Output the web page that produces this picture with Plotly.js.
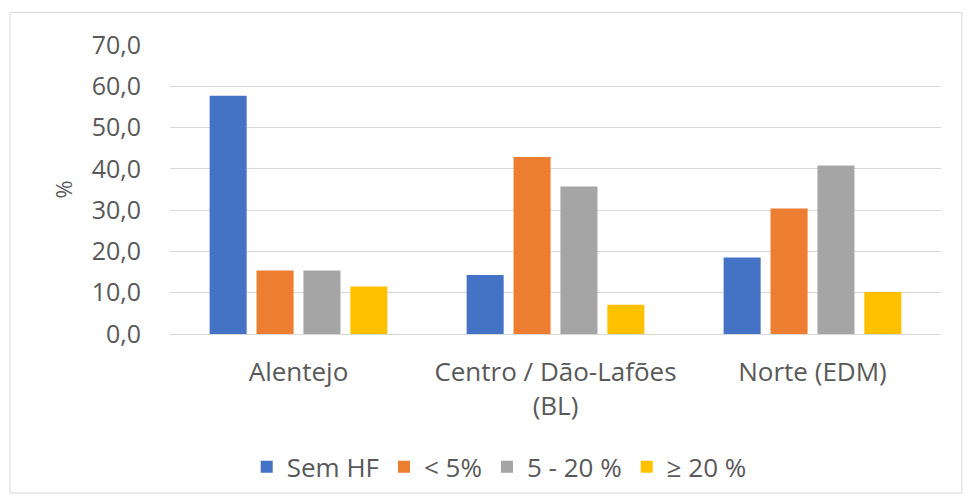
<!DOCTYPE html>
<html>
<head>
<meta charset="utf-8">
<script src="https://cdn.plot.ly/plotly-3.0.1.min.js"></script>
<style>html,body{margin:0;padding:0;background:#fff;}#chart{width:971px;height:503px;}</style>
</head>
<body>
<div id="chart"></div>
<script>
const categories = ["Alentejo", "Centro / Dão-Lafões<br>(BL)", "Norte (EDM)"];
const seriesNames = ["Sem HF", "< 5%", "5 - 20 %", "≥ 20 %"];
const semHF = [57.7, 14.3, 18.5];
const menos5 = [15.4, 42.9, 30.4];
const de5a20 = [15.4, 35.7, 40.8];
const mais20 = [11.5, 7.1, 10.2];
const colors = ["#4472C4", "#ED7D31", "#A5A5A5", "#FFC000"];
const yTicks = [0, 10, 20, 30, 40, 50, 60, 70];
const yTitle = "%";

const values = [semHF, menos5, de5a20, mais20];
const traces = values.map((v, i) => ({
  type: "bar",
  name: seriesNames[i],
  x: categories,
  y: v,
  marker: {color: colors[i]},
  hoverinfo: "y+name"
}));

const fam = "Open Sans, sans-serif";
const grey = "#595959";

const layout = {
  width: 971, height: 503,
  margin: {l: 170, r: 30, t: 45, b: 169},
  paper_bgcolor: "#ffffff",
  plot_bgcolor: "#ffffff",
  separators: ",.",
  font: {family: fam, size: 24, color: grey},
  barmode: "group",
  bargap: 0.27,
  bargroupgap: 0.21,
  showlegend: true,
  legend: {
    orientation: "h",
    x: 0.427, xanchor: "center",
    y: -0.46, yanchor: "middle",
    bgcolor: "rgba(0,0,0,0)",
    font: {family: fam, size: 26, color: grey},
    itemwidth: 30,
    traceorder: "normal"
  },
  xaxis: {
    showgrid: false,
    showline: false,
    zeroline: false,
    ticks: "",
    ticklabelstandoff: 20,
    tickfont: {family: fam, size: 26, color: grey},
    fixedrange: true
  },
  yaxis: {
    range: [0, 70],
    tickvals: yTicks,
    tickformat: ".1f",
    showgrid: true,
    gridcolor: "#d9d9d9",
    gridwidth: 1,
    zeroline: true,
    zerolinecolor: "#d9d9d9",
    zerolinewidth: 1,
    showline: false,
    ticks: "",
    ticklabelstandoff: 28,
    tickfont: {family: fam, size: 25, color: grey},
    fixedrange: true
  },
  annotations: [{
    text: yTitle, xref: "paper", yref: "paper",
    x: -0.14, y: 0.5, xanchor: "center", yanchor: "middle",
    textangle: -90, showarrow: false,
    font: {family: fam, size: 22, color: grey}
  }],
  shapes: [{
    type: "rect", xref: "paper", yref: "paper",
    x0: -0.2075, x1: 1.027, y0: -0.55, y1: 1.113,
    line: {color: "#d9d9d9", width: 1}, fillcolor: "rgba(0,0,0,0)", layer: "below"
  }]
};

Plotly.newPlot("chart", traces, layout, {displayModeBar: false, staticPlot: true});
</script>
</body>
</html>
